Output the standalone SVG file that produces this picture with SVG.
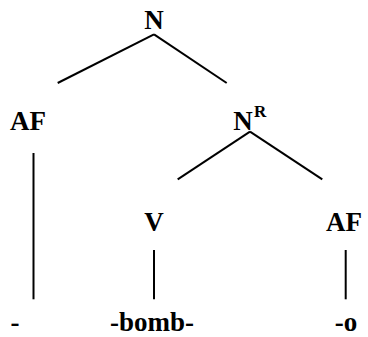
<svg xmlns="http://www.w3.org/2000/svg" width="368" height="337" viewBox="0 0 368 337">
<style>
text{font-family:"Liberation Serif","Times New Roman",serif;font-weight:bold;font-size:27px;fill:#000;text-anchor:middle}
.sup{font-size:17px;text-anchor:start}
line{stroke:#000;stroke-width:2}
</style>
<rect width="368" height="337" fill="#fff"/>
<g id="connectors">
<line x1="154" y1="34.3" x2="57.7" y2="83"/>
<line x1="154" y1="34.3" x2="226.7" y2="83"/>
<line x1="33.5" y1="153" x2="33.5" y2="299.3"/>
<line x1="250" y1="131.7" x2="177.7" y2="179.3"/>
<line x1="250" y1="131.7" x2="322.3" y2="179.3"/>
<line x1="154" y1="250" x2="154" y2="299.3"/>
<line x1="345.7" y1="250" x2="345.7" y2="299.3"/>
</g>
<g id="node-N"><text x="154" y="29">N</text></g>
<g id="node-AF1"><text x="28" y="130">AF</text></g>
<g id="node-NR"><text x="243" y="130">N</text><text class="sup" x="254" y="117">R</text></g>
<g id="node-V"><text x="154" y="231">V</text></g>
<g id="node-AF2"><text x="344" y="231">AF</text></g>
<g id="node-dash"><text x="15" y="331">-</text></g>
<g id="node-bomb"><text x="152" y="331">-bomb-</text></g>
<g id="node-o"><text x="346" y="331">-o</text></g>
</svg>
